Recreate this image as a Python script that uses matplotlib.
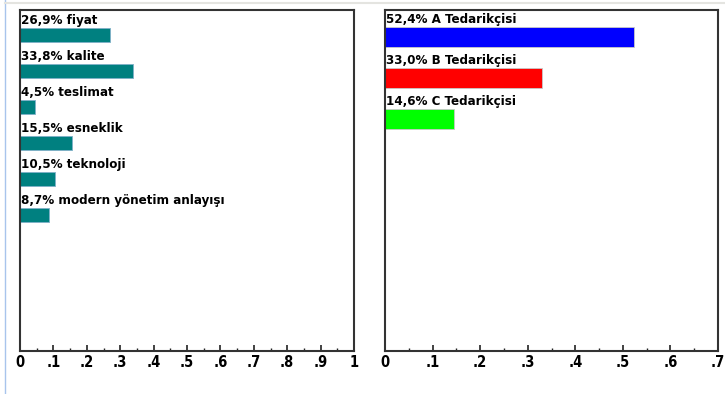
import matplotlib.pyplot as plt
from matplotlib.ticker import MultipleLocator, FuncFormatter

# veriler
kriterler = ['fiyat', 'kalite', 'teslimat', 'esneklik', 'teknoloji', 'modern yönetim anlayışı']
kriter_deger = [0.269, 0.338, 0.045, 0.155, 0.105, 0.087]
kriter_etiket = ['26,9%', '33,8%', '4,5%', '15,5%', '10,5%', '8,7%']

tedarikciler = ['A Tedarikçisi', 'B Tedarikçisi', 'C Tedarikçisi']
ted_deger = [0.524, 0.330, 0.146]
ted_etiket = ['52,4%', '33,0%', '14,6%']
ted_renk = ['#0000ff', '#ff0000', '#00ff00']

plt.rcParams['font.family'] = ['DejaVu Sans']
plt.rcParams['font.stretch'] = 'condensed'

W, H = 725, 394
fig = plt.figure(figsize=(W / 100, H / 100), dpi=100)

# kenardaki ince cizgiler
fig.add_artist(plt.Line2D([5 / W, 5 / W], [0, 1], color='#a8c4ec', lw=1))
fig.add_artist(plt.Line2D([5 / W, 1], [1 - 3 / H, 1 - 3 / H], color='#e4e4e0', lw=1.5))


def eksen(x0, x1, xmax, step_px, c0, bar_px):
    ax = fig.add_axes([x0 / W, 1 - 351 / H, (x1 - x0) / W, 341 / H])
    ust = -(c0 - 10) / step_px
    ax.set_ylim(ust + 341 / step_px, ust)
    ax.set_xlim(0, xmax)
    ax.set_yticks([])
    ax.xaxis.set_major_locator(MultipleLocator(0.1))
    ax.xaxis.set_minor_locator(MultipleLocator(0.05))
    ax.xaxis.set_major_formatter(FuncFormatter(
        lambda v, p: '0' if abs(v) < 1e-9 else ('1' if abs(v - 1) < 1e-9 else ('%.1f' % v)[1:])))
    ax.tick_params(axis='x', which='major', direction='in', length=4, width=1.2,
                   labelsize=10.5, pad=3, color='#222222')
    ax.tick_params(axis='x', which='minor', direction='in', length=2, width=1, color='#222222')
    for t in ax.get_xticklabels():
        t.set_fontweight('bold')
        t.set_fontstretch('condensed')
    for s in ax.spines.values():
        s.set_linewidth(1.5)
        s.set_color('#333333')
    return ax, bar_px / step_px


# sol grafik: kriterler
ax1, h1 = eksen(20, 354, 1.0, 36, 35, 14)
ax1.barh(range(len(kriterler)), kriter_deger, height=h1, color='#008080',
         edgecolor='#7fb0c8', linewidth=0.6, align='center')
for i, (k, e) in enumerate(zip(kriterler, kriter_etiket)):
    ax1.annotate(e + ' ' + k, (0, i - h1 / 2), xytext=(1, 1), textcoords='offset points',
                 ha='left', va='bottom', fontsize=9.5, fontweight='bold', fontstretch='condensed')

# sag grafik: tedarikciler
ax2, h2 = eksen(385, 718, 0.7, 41, 37, 20)
ax2.barh(range(len(tedarikciler)), ted_deger, height=h2, color=ted_renk,
         edgecolor='#c8c8c8', linewidth=0.6, align='center')
for i, (t, e) in enumerate(zip(tedarikciler, ted_etiket)):
    ax2.annotate(e + ' ' + t, (0, i - h2 / 2), xytext=(1, 1), textcoords='offset points',
                 ha='left', va='bottom', fontsize=9.5, fontweight='bold', fontstretch='condensed')

fig.savefig('out.png', dpi=100)
